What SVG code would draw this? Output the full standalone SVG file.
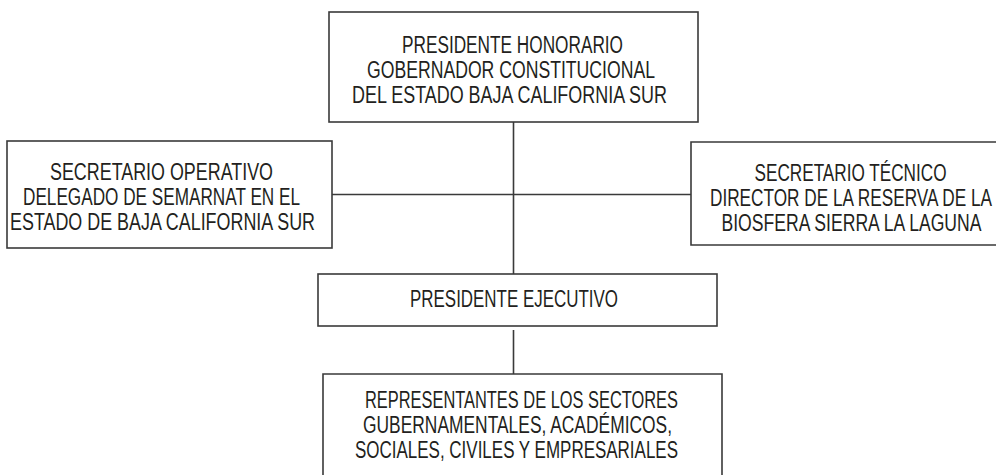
<svg xmlns="http://www.w3.org/2000/svg" width="996" height="475" viewBox="0 0 996 475">
<style>
.box{fill:#fff;stroke:#3a3a3a;stroke-width:1.6}
.ln{fill:none;stroke:#3a3a3a;stroke-width:1.6}
.t{font-family:"Liberation Sans",Arial,sans-serif;font-size:23px;fill:#231f20;text-anchor:middle}
.te{text-anchor:end}
</style>
<rect width="996" height="475" fill="#fff"/>
<g id="connectors">
<line class="ln" x1="513.5" y1="122" x2="513.5" y2="274"/>
<line class="ln" x1="332" y1="194.5" x2="691" y2="194.5"/>
<line class="ln" x1="513.5" y1="330" x2="513.5" y2="374"/>
</g>
<g id="presidente-honorario">
<rect class="box" x="329" y="12" width="369" height="110"/>
<text class="t" x="512.5" y="53" textLength="221" lengthAdjust="spacingAndGlyphs">PRESIDENTE HONORARIO</text>
<text class="t" x="511" y="78" textLength="288" lengthAdjust="spacingAndGlyphs">GOBERNADOR CONSTITUCIONAL</text>
<text class="t" x="509.5" y="103" textLength="315" lengthAdjust="spacingAndGlyphs">DEL ESTADO BAJA CALIFORNIA SUR</text>
</g>
<g id="secretario-operativo">
<rect class="box" x="7" y="141" width="325" height="107"/>
<text class="t" x="161.5" y="180" textLength="223" lengthAdjust="spacingAndGlyphs">SECRETARIO OPERATIVO</text>
<text class="t" x="161.5" y="205" textLength="277" lengthAdjust="spacingAndGlyphs">DELEGADO DE SEMARNAT EN EL</text>
<text class="t" x="162.5" y="230" textLength="305" lengthAdjust="spacingAndGlyphs">ESTADO DE BAJA CALIFORNIA SUR</text>
</g>
<g id="secretario-tecnico">
<path class="box" d="M996 142 H691 V245 H996"/>
<text class="t te" x="946.5" y="181" textLength="192" lengthAdjust="spacingAndGlyphs">SECRETARIO TÉCNICO</text>
<text class="t te" x="992" y="206" textLength="282" lengthAdjust="spacingAndGlyphs">DIRECTOR DE LA RESERVA DE LA</text>
<text class="t te" x="981.5" y="231" textLength="260" lengthAdjust="spacingAndGlyphs">BIOSFERA SIERRA LA LAGUNA</text>
</g>
<g id="presidente-ejecutivo">
<rect class="box" x="318" y="274" width="399" height="52"/>
<text class="t" x="514" y="307" textLength="208" lengthAdjust="spacingAndGlyphs">PRESIDENTE EJECUTIVO</text>
</g>
<g id="representantes">
<path class="box" d="M323 475 V374 H722 V475"/>
<text class="t" x="521.5" y="408" textLength="313" lengthAdjust="spacingAndGlyphs">REPRESENTANTES DE LOS SECTORES</text>
<text class="t" x="517.5" y="433" textLength="309" lengthAdjust="spacingAndGlyphs">GUBERNAMENTALES, ACADÉMICOS,</text>
<text class="t" x="516.5" y="458" textLength="323" lengthAdjust="spacingAndGlyphs">SOCIALES, CIVILES Y EMPRESARIALES</text>
</g>
</svg>
